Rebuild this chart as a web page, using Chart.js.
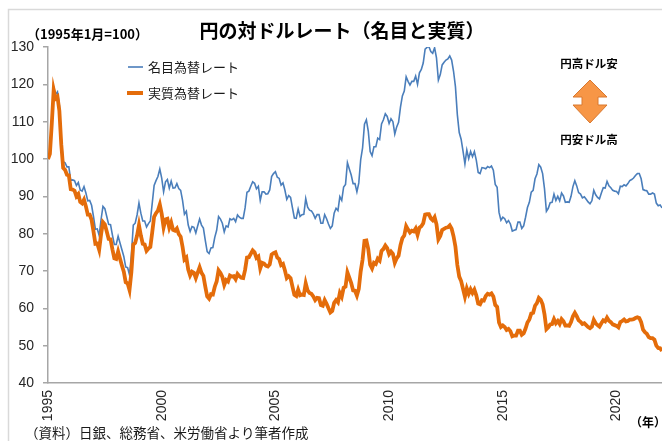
<!DOCTYPE html>
<html>
<head>
<meta charset="utf-8">
<script src="https://cdn.jsdelivr.net/npm/chart.js@4"></script>
<style>
  html, body { margin: 0; padding: 0; background: #fff; }
</style>
</head>
<body>
<canvas id="chart" width="662" height="441"></canvas>
<script>
// monthly index, Jan 1995 = 100, series run Jan 1995 .. Jan 2022
var startYear = 1995;
var yearTicks = [1995, 2000, 2005, 2010, 2015, 2020];
var yTicks = [40, 50, 60, 70, 80, 90, 100, 110, 120, 130];
var seriesNames = ['名目為替レート', '実質為替レート'];

var nominal = [
  100.0,101.6,109.9,119.2,117.3,118.0,114.4,105.5,99.3,99.0,97.9,97.9,
  94.3,94.4,94.2,92.9,93.7,91.7,91.4,92.6,90.9,88.8,88.9,87.6,
  84.6,81.2,81.3,79.5,83.8,87.3,86.7,84.6,82.5,82.4,79.6,77.1,
  77.1,79.3,77.5,75.7,73.9,71.1,70.9,69.0,74.2,82.3,82.8,85.0,
  88.2,85.5,83.4,83.4,81.8,82.7,83.4,88.1,92.9,94.2,95.3,97.3,
  94.9,91.2,93.9,94.5,92.2,94.1,92.2,92.3,93.4,92.1,91.6,88.9,
  85.2,86.0,82.3,80.6,81.9,81.7,80.2,82.1,83.9,82.3,81.5,78.2,
  75.2,74.7,76.2,76.3,79.0,80.9,84.6,83.9,82.8,80.5,82.1,81.8,
  84.0,83.7,84.1,83.2,85.0,84.4,84.1,84.1,86.9,91.1,91.4,92.7,
  93.9,93.5,92.0,92.7,88.9,91.2,91.2,90.6,90.7,91.7,95.3,96.1,
  96.6,95.1,94.8,93.0,93.6,91.7,89.2,90.2,89.7,86.9,84.2,84.1,
  86.6,84.6,85.1,85.2,89.4,87.1,86.3,86.1,85.3,84.1,85.1,85.1,
  82.8,82.8,85.1,84.0,82.6,81.4,82.1,85.5,86.8,86.2,89.9,88.9,
  92.5,93.2,99.0,97.3,95.7,93.4,93.4,91.2,93.6,99.8,103.0,109.3,
  110.5,107.5,102.0,100.9,103.3,103.3,105.6,105.2,109.4,110.5,112.1,111.4,
  109.5,110.8,110.0,106.7,108.6,109.8,113.9,116.9,118.2,122.0,120.8,119.8,
  120.8,120.8,122.2,120.0,123.1,124.0,125.7,129.4,129.9,130.1,128.8,128.3,
  129.8,127.1,121.1,122.6,125.2,125.9,126.5,126.8,127.6,126.5,123.5,119.4,
  111.9,107.1,105.3,102.1,98.7,102.4,100.1,102.0,100.6,102.0,99.7,96.4,
  96.1,97.7,97.6,97.4,98.0,97.7,98.1,97.0,93.2,92.4,85.7,83.6,
  84.4,84.0,82.9,83.5,82.6,80.7,80.9,81.1,83.1,83.1,81.4,82.1,
  84.4,87.0,88.4,91.1,91.6,94.7,96.0,98.5,97.8,96.1,92.0,86.0,
  86.8,88.3,88.4,90.6,88.9,90.0,88.8,90.9,90.1,88.4,88.5,88.4,
  90.0,92.6,94.2,92.8,91.0,90.6,89.6,89.9,89.2,88.5,88.0,88.8,
  91.6,90.4,89.7,89.3,90.9,92.3,92.2,94.0,92.8,92.3,91.6,91.4,
  91.3,90.7,92.7,92.6,93.1,92.8,93.4,94.2,94.5,94.9,95.6,96.1,
  96.1,94.7,91.8,91.6,91.5,90.6,90.6,90.9,90.6,88.2,87.5,87.7,
  86.9
];

var real = [
  100.0,101.4,109.5,118.5,116.2,116.7,112.9,103.9,97.6,97.1,95.8,95.6,
  91.9,91.8,91.5,90.0,90.6,88.5,88.1,89.1,87.3,85.1,85.1,83.7,
  80.6,77.3,77.4,75.7,79.8,83.1,82.5,80.6,78.6,78.5,75.8,73.4,
  73.2,75.2,73.3,71.5,69.8,67.0,66.7,64.9,69.7,77.1,77.5,79.5,
  82.3,79.5,77.3,77.1,75.4,76.0,76.4,80.4,84.5,85.5,86.2,87.8,
  85.3,81.7,83.8,84.0,81.6,83.0,81.0,80.8,81.4,79.9,79.2,76.5,
  73.1,73.6,70.4,68.8,69.8,69.5,68.1,69.6,71.0,69.5,68.7,65.8,
  63.2,62.6,63.8,63.7,65.8,67.2,70.2,69.5,68.4,66.3,67.6,67.2,
  68.8,68.5,68.6,67.8,69.2,68.6,68.2,68.1,70.3,73.6,73.7,74.6,
  75.5,75.0,73.5,73.9,70.7,72.2,72.0,71.4,71.2,71.8,74.4,74.8,
  75.0,73.6,73.2,71.6,71.9,70.2,68.1,68.6,68.1,65.8,63.6,63.3,
  65.0,63.5,63.7,63.6,66.7,64.8,64.1,63.9,63.2,62.2,62.8,62.7,
  60.9,60.7,62.2,61.2,60.0,58.9,59.3,61.5,62.2,61.6,64.1,63.1,
  65.5,65.8,69.6,68.2,66.8,64.8,64.7,63.4,65.2,69.9,73.1,78.1,
  78.2,75.9,71.7,70.7,72.2,71.9,73.3,72.8,75.4,75.9,76.8,76.1,
  74.5,75.2,74.6,72.2,73.4,74.1,76.9,78.8,79.5,82.0,81.1,80.3,
  80.8,80.6,81.4,79.7,81.6,82.0,82.8,85.1,85.2,85.2,84.1,83.6,
  84.4,82.5,78.5,79.4,81.0,81.3,81.6,81.7,82.2,81.3,79.3,76.5,
  71.6,68.5,67.3,65.2,63.1,65.3,63.9,65.1,64.1,65.0,63.5,61.3,
  61.1,62.2,62.1,63.3,63.9,63.7,64.0,63.2,60.9,60.4,56.2,55.0,
  55.4,55.0,54.2,54.5,53.9,52.5,52.7,52.7,54.0,54.0,52.9,53.3,
  54.6,56.2,57.0,58.6,58.8,60.7,61.4,62.8,62.3,61.1,58.4,54.4,
  54.9,55.7,55.8,57.1,56.0,56.6,55.8,57.1,56.5,55.4,55.4,55.3,
  56.3,57.9,58.8,57.9,56.8,56.4,55.8,56.0,55.5,55.0,54.7,55.1,
  56.9,56.0,55.5,55.1,56.0,56.8,56.5,57.5,56.7,56.3,55.7,55.5,
  55.3,54.9,56.3,56.6,57.0,56.5,56.6,57.0,57.0,57.1,57.4,57.6,
  57.4,56.3,54.3,53.6,53.2,52.3,52.0,52.0,51.6,50.0,49.4,49.3,
  48.6
];

var jpFont = '"Noto Sans CJK JP", sans-serif';
var numFont = '"Liberation Sans", Arial, sans-serif';
var blue = '#4A7EBB';
var orange = '#E46C0A';
var axisGray = '#A6A6A6';

function toPoints(values) {
  return values.map(function(v, i) {
    return { x: startYear + i / 12, y: v };
  });
}

// titles, legend, arrow note and frame drawn around the plot
var decor = {
  id: 'decor',
  beforeDraw: function(chart) {
    var ctx = chart.ctx;
    ctx.save();
    ctx.fillStyle = '#fff';
    ctx.fillRect(0, 0, chart.width, chart.height);
    ctx.strokeStyle = '#D9D9D9';
    ctx.lineWidth = 1.5;
    ctx.strokeRect(8.5, 9.5, 700, 500);
    ctx.restore();
  },
  afterDraw: function(chart) {
    var ctx = chart.ctx;
    ctx.save();
    ctx.textBaseline = 'middle';

    ctx.fillStyle = '#000';
    ctx.font = 'bold 19px ' + jpFont;
    ctx.textAlign = 'center';
    ctx.fillText('円の対ドルレート（名目と実質）', 342, 31);

    ctx.font = 'bold 13px ' + jpFont;
    ctx.textAlign = 'left';
    ctx.fillText('（1995年1月=100）', 27, 34);

    // legend
    ctx.lineCap = 'butt';
    ctx.strokeStyle = blue;
    ctx.lineWidth = 1.6;
    ctx.beginPath(); ctx.moveTo(128, 67); ctx.lineTo(143, 67); ctx.stroke();
    ctx.strokeStyle = orange;
    ctx.lineWidth = 4;
    ctx.beginPath(); ctx.moveTo(127, 93); ctx.lineTo(143, 93); ctx.stroke();
    ctx.fillStyle = '#1a1a1a';
    ctx.font = '13px ' + jpFont;
    ctx.fillText(seriesNames[0], 148, 67);
    ctx.fillText(seriesNames[1], 148, 93);

    // arrow note
    ctx.fillStyle = '#000';
    ctx.font = 'bold 11.5px ' + jpFont;
    ctx.textAlign = 'center';
    ctx.fillText('円高ドル安', 589, 64);
    ctx.fillText('円安ドル高', 589, 140);
    ctx.beginPath();
    ctx.moveTo(590, 80);
    ctx.lineTo(607, 97);
    ctx.lineTo(598, 97);
    ctx.lineTo(598, 105);
    ctx.lineTo(607, 105);
    ctx.lineTo(590, 123);
    ctx.lineTo(573, 105);
    ctx.lineTo(582, 105);
    ctx.lineTo(582, 97);
    ctx.lineTo(573, 97);
    ctx.closePath();
    ctx.fillStyle = '#F79646';
    ctx.fill();
    ctx.strokeStyle = '#D9782F';
    ctx.lineWidth = 1;
    ctx.stroke();

    // year unit and source
    ctx.fillStyle = '#000';
    ctx.font = 'bold 12px ' + jpFont;
    ctx.fillText('（年）', 648, 422);
    ctx.fillStyle = '#1a1a1a';
    ctx.font = '13.5px ' + jpFont;
    ctx.textAlign = 'left';
    ctx.fillText('（資料）日銀、総務省、米労働省より筆者作成', 25, 433);
    ctx.restore();
  }
};

new Chart(document.getElementById('chart'), {
  type: 'line',
  data: {
    datasets: [
      {
        label: seriesNames[0],
        data: toPoints(nominal),
        borderColor: blue,
        borderWidth: 1.6,
        pointRadius: 0,
        tension: 0,
        order: 2
      },
      {
        label: seriesNames[1],
        data: toPoints(real),
        borderColor: orange,
        borderWidth: 3.8,
        pointRadius: 0,
        tension: 0,
        order: 1
      }
    ]
  },
  options: {
    responsive: false,
    animation: false,
    devicePixelRatio: 1,
    layout: { padding: { top: 47, left: 0, right: 0, bottom: 0 } },
    plugins: {
      legend: { display: false },
      tooltip: { enabled: false }
    },
    scales: {
      x: {
        type: 'linear',
        min: startYear,
        max: 2022,
        afterBuildTicks: function(scale) {
          scale.ticks = yearTicks.map(function(v) { return { value: v }; });
        },
        afterFit: function(scale) { scale.height = 58; },
        ticks: {
          autoSkip: false,
          minRotation: 90,
          maxRotation: 90,
          padding: 7,
          color: '#262626',
          font: { family: numFont, size: 14 },
          callback: function(v) { return String(v); }
        },
        grid: { display: true, drawOnChartArea: false, drawTicks: false },
        border: { color: axisGray, width: 1.5 }
      },
      y: {
        min: 40,
        max: 130,
        afterBuildTicks: function(scale) {
          scale.ticks = yTicks.map(function(v) { return { value: v }; });
        },
        afterFit: function(scale) { scale.width = 48; },
        ticks: {
          padding: 9,
          color: '#262626',
          font: { family: numFont, size: 14 }
        },
        grid: { display: true, drawOnChartArea: false, drawTicks: true, tickLength: 5, color: axisGray, lineWidth: 1.5 },
        border: { color: axisGray, width: 1.5 }
      }
    }
  },
  plugins: [decor]
});
</script>
</body>
</html>
